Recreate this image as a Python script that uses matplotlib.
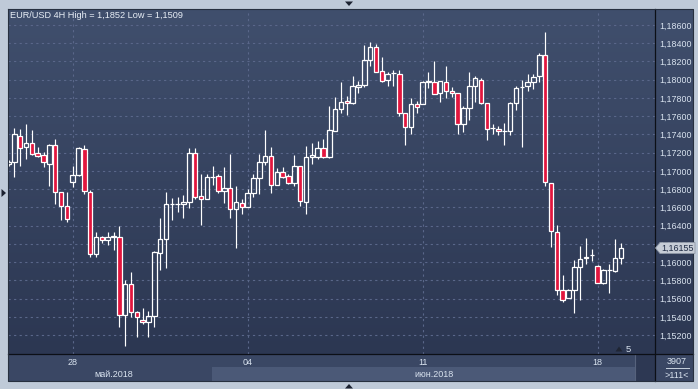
import matplotlib
matplotlib.use('Agg')
import matplotlib.pyplot as plt
import numpy as np
from matplotlib.patches import Rectangle, Polygon
from matplotlib.lines import Line2D
from matplotlib.colors import LinearSegmentedColormap
from matplotlib.ticker import FuncFormatter
from matplotlib.transforms import blended_transform_factory

# ---------------- data (EUR/USD 4H candles) ----------------
opens = [1.1708, 1.1710, 1.1738, 1.1726, 1.1731, 1.1720, 1.1717, 1.1708, 1.1728, 1.1677,
         1.1662, 1.1688, 1.1696, 1.1724, 1.1677, 1.1609, 1.1628, 1.1624, 1.1628, 1.1628,
         1.1542, 1.1576, 1.1545, 1.1537, 1.1534, 1.1541, 1.1610, 1.1625, 1.1664, 1.1664,
         1.1664, 1.1666, 1.1720, 1.1673, 1.1669, 1.1693, 1.1694, 1.1678, 1.1681, 1.1658,
         1.1665, 1.1661, 1.1676, 1.1692, 1.1710, 1.1716, 1.1685, 1.1699, 1.1694, 1.1687,
         1.1705, 1.1666, 1.1715, 1.1715, 1.1725, 1.1715, 1.1744, 1.1768, 1.1777, 1.1775,
         1.1792, 1.1794, 1.1822, 1.1836, 1.1810, 1.1800, 1.1807, 1.1806, 1.1764, 1.1748,
         1.1773, 1.1773, 1.1798, 1.1798, 1.1785, 1.1798, 1.1788, 1.1785, 1.1752, 1.1769,
         1.1793, 1.1800, 1.1774, 1.1747, 1.1746, 1.1744, 1.1744, 1.1774, 1.1792, 1.1793,
         1.1797, 1.1804, 1.1827, 1.1687, 1.1633, 1.1570, 1.1561, 1.1570, 1.1595, 1.1605,
         1.1608, 1.1596, 1.1577, 1.1591, 1.1590, 1.1605]
highs = [1.1712, 1.1747, 1.1746, 1.1751, 1.1745, 1.1726, 1.1721, 1.1730, 1.1735, 1.1677,
         1.1677, 1.1705, 1.1726, 1.1729, 1.1679, 1.1633, 1.1629, 1.1633, 1.1633, 1.1640,
         1.1580, 1.1589, 1.1547, 1.1550, 1.1547, 1.1612, 1.1649, 1.1677, 1.1670, 1.1672,
         1.1674, 1.1725, 1.1725, 1.1697, 1.1697, 1.1706, 1.1697, 1.1704, 1.1719, 1.1684,
         1.1669, 1.1680, 1.1697, 1.1719, 1.1745, 1.1726, 1.1703, 1.1704, 1.1697, 1.1717,
         1.1706, 1.1727, 1.1731, 1.1733, 1.1735, 1.1771, 1.1781, 1.1797, 1.1782, 1.1804,
         1.1799, 1.1838, 1.1841, 1.1839, 1.1825, 1.1808, 1.1811, 1.1811, 1.1764, 1.1780,
         1.1777, 1.1799, 1.1808, 1.1821, 1.1799, 1.1815, 1.1792, 1.1785, 1.1771, 1.1808,
         1.1804, 1.1802, 1.1774, 1.1752, 1.1749, 1.1753, 1.1776, 1.1793, 1.1800, 1.1806,
         1.1806, 1.1829, 1.1852, 1.1687, 1.1641, 1.1586, 1.1571, 1.1602, 1.1618, 1.1627,
         1.1615, 1.1597, 1.1593, 1.1598, 1.1625, 1.1621]
lows = [1.1705, 1.1693, 1.1705, 1.1713, 1.1718, 1.1715, 1.1704, 1.1683, 1.1664, 1.1646,
        1.1644, 1.1682, 1.1694, 1.1675, 1.1606, 1.1606, 1.1621, 1.1619, 1.1613, 1.1529,
        1.1508, 1.1540, 1.1518, 1.1532, 1.1518, 1.1529, 1.1592, 1.1594, 1.1646, 1.1655,
        1.1648, 1.1659, 1.1669, 1.1641, 1.1669, 1.1685, 1.1676, 1.1665, 1.1648, 1.1616,
        1.1653, 1.1661, 1.1672, 1.1675, 1.1707, 1.1676, 1.1685, 1.1692, 1.1686, 1.1683,
        1.1662, 1.1653, 1.1708, 1.1713, 1.1714, 1.1714, 1.1744, 1.1763, 1.1761, 1.1773,
        1.1785, 1.1792, 1.1815, 1.1809, 1.1797, 1.1793, 1.1793, 1.1760, 1.1728, 1.1741,
        1.1764, 1.1773, 1.1791, 1.1784, 1.1776, 1.1780, 1.1781, 1.1740, 1.1743, 1.1756,
        1.1776, 1.1773, 1.1734, 1.1741, 1.1739, 1.1729, 1.1739, 1.1767, 1.1726, 1.1788,
        1.1790, 1.1797, 1.1683, 1.1617, 1.1564, 1.1556, 1.1561, 1.1544, 1.1559, 1.1598,
        1.1601, 1.1577, 1.1576, 1.1566, 1.1589, 1.1598]
closes = [1.1710, 1.1740, 1.1725, 1.1731, 1.1719, 1.1716, 1.1710, 1.1728, 1.1677, 1.1662,
          1.1647, 1.1696, 1.1725, 1.1678, 1.1609, 1.1628, 1.1624, 1.1628, 1.1628, 1.1542,
          1.1576, 1.1545, 1.1540, 1.1534, 1.1541, 1.1611, 1.1626, 1.1664, 1.1664, 1.1664,
          1.1666, 1.1720, 1.1672, 1.1669, 1.1693, 1.1693, 1.1678, 1.1681, 1.1658, 1.1666,
          1.1660, 1.1676, 1.1692, 1.1710, 1.1716, 1.1685, 1.1699, 1.1693, 1.1687, 1.1705,
          1.1667, 1.1715, 1.1717, 1.1725, 1.1715, 1.1745, 1.1768, 1.1776, 1.1774, 1.1793,
          1.1794, 1.1822, 1.1836, 1.1809, 1.1799, 1.1806, 1.1807, 1.1764, 1.1748, 1.1773,
          1.1770, 1.1798, 1.1798, 1.1784, 1.1799, 1.1788, 1.1785, 1.1752, 1.1769, 1.1793,
          1.1802, 1.1774, 1.1746, 1.1747, 1.1744, 1.1744, 1.1774, 1.1791, 1.1792, 1.1797,
          1.1803, 1.1827, 1.1688, 1.1634, 1.1570, 1.1559, 1.1570, 1.1595, 1.1604, 1.1605,
          1.1608, 1.1577, 1.1591, 1.1591, 1.1605, 1.16155]

day_tick_pos = [11, 41, 71, 101]
day_tick_labels = ['28', '04', '11', '18']
month_pos = [18.0, 72.9]
month_labels = ['май.2018', 'июн.2018']
price_ticks = [1.152, 1.154, 1.156, 1.158, 1.160, 1.162, 1.164, 1.166, 1.168,
               1.170, 1.172, 1.174, 1.176, 1.178, 1.180, 1.182, 1.184, 1.186]
title = 'EUR/USD 4H High = 1,1852 Low = 1,1509'
last_price_label = '1,16155'
corner_top = '3907'
corner_bottom = '>111<'
scale_label = '5'

# ---------------- figure layout ----------------
W, H = 698, 389
fig = plt.figure(figsize=(W / 100, H / 100), dpi=100)
fig.patch.set_facecolor('#bfcad8')
FONT = 'Liberation Sans'
TXT = '#d9e3ef'


def fx(px):
    return px / W


def fy(py):
    return 1 - py / H


def rect_px(x0, y0, x1, y1):
    return [fx(x0), fy(y1), (x1 - x0) / W, (y1 - y0) / H]


def add_rect(x0, y0, x1, y1, color, z=-1, **kw):
    fig.add_artist(Rectangle((fx(x0), fy(y1)), (x1 - x0) / W, (y1 - y0) / H,
                             transform=fig.transFigure, facecolor=color,
                             edgecolor='none', zorder=z, **kw))


def add_line(xs, ys, color, lw=1.0, z=3):
    fig.add_artist(Line2D([fx(v) for v in xs], [fy(v) for v in ys],
                          transform=fig.transFigure, color=color, lw=lw, zorder=z))


# gradient background for the chart panel
bg = fig.add_axes(rect_px(8, 9, 693, 354), zorder=-3)
grad = np.linspace(0, 1, 256).reshape(-1, 1)
cmap = LinearSegmentedColormap.from_list('bg', ['#404f6d', '#2c3752'])
bg.imshow(grad, aspect='auto', cmap=cmap, extent=[0, 1, 0, 1])
bg.axis('off')

# bottom strip
add_rect(8, 354, 693, 381, '#3a4764', z=-2)
add_rect(212, 367, 635, 381, '#4b5977', z=-1)
add_rect(635, 354, 655, 381, '#2d3853', z=-1)
add_line([635, 635], [355, 380], '#56627c', lw=0.8, z=-0.5)

# main axes
ax = fig.add_axes(rect_px(8, 9, 655, 354))
ax.set_facecolor('none')
x = np.arange(len(opens))
o = np.array(opens); h = np.array(highs); l = np.array(lows); c = np.array(closes)
top = np.maximum(o, c); bot = np.minimum(o, c)
ax.vlines(x, top, h, color='white', lw=0.85, zorder=3)
ax.vlines(x, l, bot, color='white', lw=0.85, zorder=3)
bull = c >= o
heights = np.where(np.abs(c - o) < 1e-6, 0.00003, c - o)
ax.bar(x[bull], heights[bull], bottom=o[bull], width=0.78, facecolor='none',
       edgecolor='white', linewidth=0.9, zorder=4)
ax.bar(x[~bull], heights[~bull], bottom=o[~bull], width=0.78, facecolor='#e2163e',
       edgecolor='white', linewidth=0.9, zorder=4)

ax.set_xlim(-0.086, 110.83)
ax.set_ylim(1.149945, 1.18775)
for s in ax.spines.values():
    s.set_visible(False)

ax.set_xticks(day_tick_pos)
ax.set_xticklabels(day_tick_labels)
ax.yaxis.tick_right()
ax.set_yticks(price_ticks)
ax.yaxis.set_major_formatter(FuncFormatter(lambda v, p: f'{v:.5f}'.replace('.', ',')))
ax.tick_params(axis='x', length=0, pad=2.6, labelsize=6.5, labelcolor=TXT)
ax.tick_params(axis='y', length=0, pad=2.8, labelsize=6.4, labelcolor=TXT)
for lab in ax.get_xticklabels() + ax.get_yticklabels():
    lab.set_fontfamily(FONT)
ax.grid(True, color='#5a678a', lw=0.8, linestyle=(0, (2, 3)))
ax.set_axisbelow(True)

ax.text(2 / 647, 1 - 6.5 / 345, title, transform=ax.transAxes, ha='left', va='center',
        fontsize=6.55, color='#e8eef6', family=FONT)

trans = blended_transform_factory(ax.transData, ax.transAxes)
for pos, lab in zip(month_pos, month_labels):
    ax.text(pos, -(374.5 - 354) / 345, lab, transform=trans, ha='center', va='center',
            fontsize=6.5, color=TXT, family=FONT, clip_on=False)

# separators and borders
add_line([655, 655], [9, 381], '#0c0f16', lw=0.9)
add_line([8, 693], [354, 354], '#0c0f16', lw=0.9)
add_line([8, 693, 693, 8, 8], [8.5, 8.5, 381, 381, 8.5], '#27303f', lw=0.8)

# corner box texts
fig.text(fx(677), fy(361.5), corner_top, ha='center', va='center', fontsize=6.5,
         color=TXT, family=FONT)
add_line([666, 689], [368, 368], '#c8d2de', lw=0.7)
fig.text(fx(677), fy(375), corner_bottom, ha='center', va='center', fontsize=6.5,
         color=TXT, family=FONT)

# scale marker
fig.add_artist(Polygon([[fx(615.5), fy(351.5)], [fx(622.5), fy(351.5)], [fx(619), fy(346.5)]],
                       closed=True, transform=fig.transFigure, facecolor='#1f2533',
                       edgecolor='none', zorder=5))
fig.text(fx(628), fy(349), scale_label, ha='center', va='center', fontsize=6.8,
         color=TXT, family=FONT)

# last price label (covers the 1,16200 tick label as in the terminal)
fig.add_artist(Polygon([[fx(655.5), fy(248)], [fx(660), fy(242.5)], [fx(695), fy(242.5)],
                        [fx(695), fy(253.5)], [fx(660), fy(253.5)]], closed=True,
                       transform=fig.transFigure, facecolor='#c6ccd6', edgecolor='#8e97a6',
                       lw=0.6, zorder=6))
fig.text(fx(677.5), fy(248.2), last_price_label, ha='center', va='center', fontsize=6.4,
         color='#1e2a44', family=FONT, zorder=7)

# window navigation triangles
tri = '#1c2230'
fig.add_artist(Polygon([[fx(345), fy(1.5)], [fx(353), fy(1.5)], [fx(349), fy(6)]],
                       transform=fig.transFigure, facecolor=tri, edgecolor='none', zorder=5))
fig.add_artist(Polygon([[fx(345), fy(388.5)], [fx(353), fy(388.5)], [fx(349), fy(384)]],
                       transform=fig.transFigure, facecolor=tri, edgecolor='none', zorder=5))
fig.add_artist(Polygon([[fx(1.5), fy(189)], [fx(1.5), fy(197)], [fx(6), fy(193)]],
                       transform=fig.transFigure, facecolor=tri, edgecolor='none', zorder=5))

fig.savefig('out.png', dpi=100, facecolor=fig.get_facecolor())
